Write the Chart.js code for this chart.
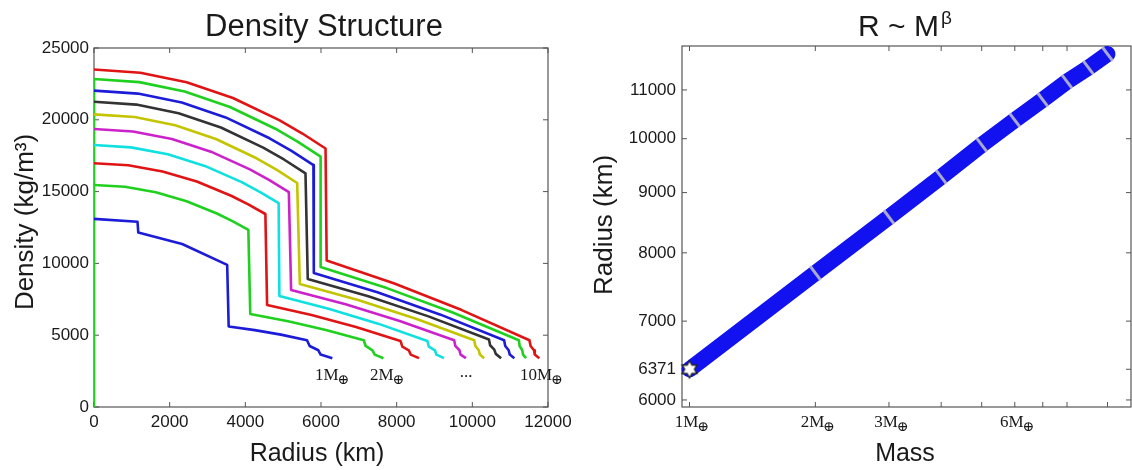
<!DOCTYPE html>
<html>
<head>
<meta charset="utf-8">
<script src="https://cdn.jsdelivr.net/npm/chart.js@4.4.1/dist/chart.umd.min.js"></script>
<style>
  html, body { margin: 0; padding: 0; background: #ffffff; }
  #wrap { position: relative; width: 1132px; height: 470px; overflow: hidden; }
  canvas { position: absolute; top: 0; }
  #cL { left: 0; }
  #cR { left: 580px; }
</style>
</head>
<body>
<div id="wrap">
  <canvas id="cL" width="580" height="470"></canvas>
  <canvas id="cR" width="552" height="470"></canvas>
</div>
<script>
// ---------------- Left panel: density profiles (radius km, density kg/m^3) ----------------
const planetLabels = ['1M⊕', '2M⊕', '3M⊕', '4M⊕', '5M⊕', '6M⊕', '7M⊕', '8M⊕', '9M⊕', '10M⊕'];

const radius01 = [0, 1150, 1170, 2330, 3520, 3560, 4250, 4940, 5630, 5700, 5930, 5990, 6300];
const density01 = [13100, 12900, 12150, 11350, 9900, 5600, 5355, 5040, 4650, 4250, 3950, 3650, 3400];

const radius02 = [0, 816, 1632, 2448, 3264, 3672, 4080, 4130, 5130, 6130, 7130, 7180, 7360, 7420, 7650];
const density02 = [15460, 15335, 14960, 14330, 13460, 12925, 12330, 6480, 5975, 5365, 4650, 4250, 3950, 3650, 3400];

const radius03 = [0, 906, 1812, 2718, 3624, 4077, 4530, 4575, 5750, 6925, 8100, 8150, 8320, 8370, 8590];
const density03 = [16970, 16830, 16405, 15700, 14710, 14110, 13440, 7100, 6410, 5575, 4600, 4200, 3950, 3650, 3400];

const radius04 = [0, 976, 1952, 2928, 3904, 4392, 4880, 4900, 6200, 7510, 8810, 8850, 9010, 9050, 9250];
const density04 = [18245, 18080, 17600, 16790, 15660, 14970, 14200, 7730, 6845, 5805, 4600, 4200, 3950, 3650, 3400];

const radius05 = [0, 1030, 2060, 3090, 4120, 4635, 5150, 5210, 6650, 8080, 9520, 9550, 9660, 9690, 9830];
const density05 = [19360, 19185, 18660, 17780, 16550, 15800, 14970, 8150, 7160, 5995, 4650, 4250, 3950, 3650, 3400];

const radius06 = [0, 1074, 2148, 3222, 4296, 4833, 5370, 5440, 6980, 8510, 10050, 10080, 10170, 10200, 10310];
const density06 = [20380, 20190, 19615, 18660, 17320, 16510, 15600, 8560, 7450, 6150, 4650, 4250, 3950, 3650, 3400];

const radius07 = [0, 1118, 2236, 3354, 4472, 5031, 5590, 5650, 7250, 8840, 10440, 10470, 10580, 10620, 10760];
const density07 = [21260, 21060, 20460, 19465, 18065, 17220, 16270, 8910, 7710, 6310, 4700, 4300, 4000, 3700, 3400];

const radius08 = [0, 1160, 2320, 3480, 4640, 5220, 5800, 5810, 7490, 9160, 10840, 10870, 10960, 10990, 11110];
const density08 = [22030, 21825, 21200, 20165, 18715, 17835, 16850, 9330, 7990, 6430, 4650, 4250, 3950, 3650, 3400];

const radius09 = [0, 0, 1198, 2396, 3594, 4792, 5391, 5990, 5990, 7740, 9480, 11230, 11250, 11320, 11340, 11420];
const density09 = [0, 22840, 22625, 21975, 20890, 19380, 18460, 17430, 9750, 8280, 6580, 4650, 4250, 3950, 3650, 3400];

const radius10 = [0, 1224, 2448, 3672, 4896, 5508, 6120, 6150, 7940, 9720, 11510, 11540, 11630, 11650, 11770];
const density10 = [23500, 23280, 22620, 21520, 19980, 19045, 18000, 10200, 8600, 6750, 4650, 4250, 3950, 3650, 3400];

const radiusTicksL = [0, 2000, 4000, 6000, 8000, 10000, 12000];
const densityTicksL = [0, 5000, 10000, 15000, 20000, 25000];

// ---------------- Right panel: mass-radius relation ----------------
const massValues = [1, 2, 3, 4, 5, 6, 7, 8, 9, 10];
const radiusValues = [6371, 7690, 8580, 9280, 9880, 10370, 10790, 11180, 11490, 11800];
const earthMass = [1];
const earthRadius = [6371];
const massTickValues = [1, 2, 3, 4, 5, 6, 7, 8, 10];
const massTickLabels = ['1M', '2M', '3M', '', '', '6M', '', '', ''];
const radiusTicksR = [6000, 6371, 7000, 8000, 9000, 10000, 11000];

// ---------------- styling ----------------
const curveColors = ['#1c1cd8', '#1fd01f', '#e01414', '#10e0e0', '#cc22cc', '#c4c400',
                     '#333333', '#1c1cd8', '#1fd01f', '#e01414'];
const SANS = '"Liberation Sans", Arial, Helvetica, sans-serif';
const SERIF = '"Liberation Serif", "Times New Roman", "DejaVu Serif", serif';
const TXT = '#1a1a1a';

Chart.defaults.font.family = SANS;
Chart.defaults.color = TXT;

// frame + inward ticks
const frameTicks = {
  id: 'frameTicks',
  beforeDatasetsDraw(chart, args, opts) {
    const { ctx, chartArea: a, scales } = chart;
    ctx.save();
    ctx.strokeStyle = '#555555';
    ctx.lineWidth = 1.2;
    ctx.strokeRect(a.left, a.top, a.right - a.left, a.bottom - a.top);
    const L = 5;
    ctx.lineWidth = 1;
    ctx.beginPath();
    opts.xTicks.forEach(v => {
      const x = scales.x.getPixelForValue(v);
      ctx.moveTo(x, a.bottom); ctx.lineTo(x, a.bottom - L);
      ctx.moveTo(x, a.top); ctx.lineTo(x, a.top + L);
    });
    opts.yTicks.forEach(v => {
      const y = scales.y.getPixelForValue(v);
      ctx.moveTo(a.left, y); ctx.lineTo(a.left + L, y);
      ctx.moveTo(a.right, y); ctx.lineTo(a.right - L, y);
    });
    ctx.stroke();
    ctx.restore();
  }
};

function drawMassText(ctx, main, x, baseline, align, size) {
  ctx.font = size + 'px ' + SERIF;
  const w1 = ctx.measureText(main).width;
  ctx.font = Math.round(size * 0.8) + 'px ' + SERIF;
  const w2 = ctx.measureText('⊕').width;
  let left = x;
  if (align === 'center') left = x - (w1 + w2) / 2;
  ctx.textAlign = 'left';
  ctx.textBaseline = 'alphabetic';
  ctx.font = size + 'px ' + SERIF;
  ctx.fillText(main, left, baseline);
  ctx.font = Math.round(size * 0.8) + 'px ' + SERIF;
  ctx.fillText('⊕', left + w1 - 1, baseline + 4);
}

const textPlugin = {
  id: 'textPlugin',
  afterDraw(chart, args, opts) {
    const { ctx, chartArea: a, scales } = chart;
    ctx.save();
    ctx.fillStyle = TXT;
    if (opts.titleSup) {
      ctx.font = '30px ' + SANS;
      const w1 = ctx.measureText(opts.title).width;
      ctx.font = '19px ' + SANS;
      const w2 = ctx.measureText(opts.titleSup).width;
      const left = opts.titleX - (w1 + w2 + 2) / 2;
      ctx.textAlign = 'left'; ctx.textBaseline = 'alphabetic';
      ctx.font = '30px ' + SANS;
      ctx.fillText(opts.title, left, 36);
      ctx.font = '19px ' + SANS;
      ctx.fillText(opts.titleSup, left + w1 + 2, 24);
    } else {
      ctx.font = '31px ' + SANS;
      ctx.textAlign = 'center'; ctx.textBaseline = 'alphabetic';
      ctx.fillText(opts.title, opts.titleX, 36);
    }
    ctx.font = '25px ' + SANS;
    ctx.textAlign = 'center'; ctx.textBaseline = 'alphabetic';
    ctx.fillText(opts.xTitle, opts.xTitleX, 461);
    ctx.save();
    ctx.translate(opts.yTitleX, opts.yTitleY);
    ctx.rotate(-Math.PI / 2);
    ctx.font = '26px ' + SANS;
    ctx.textAlign = 'center'; ctx.textBaseline = 'middle';
    ctx.fillText(opts.yTitle, 0, 0);
    ctx.restore();
    (opts.notes || []).forEach(n => {
      const x = scales.x.getPixelForValue(n.x);
      const y = scales.y.getPixelForValue(n.y);
      if (n.plain) {
        ctx.font = '17px ' + SERIF;
        ctx.textAlign = 'center'; ctx.textBaseline = 'alphabetic';
        ctx.fillText(n.text, x, y);
      } else {
        drawMassText(ctx, n.text, x, y, 'left', 17);
      }
    });
    if (opts.massLabels) {
      opts.massLabels.values.forEach((v, i) => {
        const t = opts.massLabels.labels[i];
        if (!t) return;
        const x = scales.x.getPixelForValue(v) + 3;
        drawMassText(ctx, t, x, a.bottom + 20, 'center', 17);
      });
    }
    ctx.restore();
  }
};

// ---------------- left chart ----------------
const radiusSets = [radius01, radius02, radius03, radius04, radius05, radius06, radius07, radius08, radius09, radius10];
const densitySets = [density01, density02, density03, density04, density05, density06, density07, density08, density09, density10];

new Chart(document.getElementById('cL'), {
  type: 'scatter',
  data: {
    datasets: radiusSets.map((rs, i) => ({
      label: planetLabels[i],
      data: rs.map((r, j) => ({ x: r, y: densitySets[i][j] })),
      showLine: true,
      borderColor: curveColors[i],
      backgroundColor: curveColors[i],
      borderWidth: 2.6,
      borderJoinStyle: 'round',
      pointRadius: 0,
      tension: 0,
      fill: false
    }))
  },
  options: {
    responsive: false,
    animation: false,
    events: [],
    layout: { autoPadding: false, padding: { left: 0, top: 48, right: 32, bottom: 0 } },
    plugins: {
      legend: { display: false },
      tooltip: { enabled: false },
      frameTicks: { xTicks: radiusTicksL, yTicks: densityTicksL },
      textPlugin: {
        title: 'Density Structure', titleX: 324,
        xTitle: 'Radius (km)', xTitleX: 317,
        yTitle: 'Density (kg/m³)', yTitleX: 26, yTitleY: 222,
        notes: [
          { text: '1M', x: 5842, y: 1880 },
          { text: '2M', x: 7296, y: 1880 },
          { text: '...', x: 9833, y: 2100, plain: true },
          { text: '10M', x: 11261, y: 1880 }
        ]
      }
    },
    scales: {
      x: {
        type: 'linear', min: 0, max: 12000,
        afterFit: s => { s.height = 63; },
        afterBuildTicks: s => { s.ticks = radiusTicksL.map(v => ({ value: v })); },
        grid: { display: false, drawTicks: false },
        border: { display: false },
        ticks: { padding: 5, font: { size: 17 }, color: TXT, maxRotation: 0, autoSkip: false,
                 callback: v => String(v) }
      },
      y: {
        type: 'linear', min: 0, max: 25000,
        afterFit: s => { s.width = 94; },
        afterBuildTicks: s => { s.ticks = densityTicksL.map(v => ({ value: v })); },
        grid: { display: false, drawTicks: false },
        border: { display: false },
        ticks: { padding: 5, font: { size: 17 }, color: TXT, autoSkip: false,
                 callback: v => String(v) }
      }
    }
  },
  plugins: [frameTicks, textPlugin]
});

// ---------------- right chart ----------------
const hexStar = (() => {
  const c = document.createElement('canvas');
  c.width = 22; c.height = 22;
  const g = c.getContext('2d');
  const cx = 11, cy = 11, R = 8.5, r = R / Math.sqrt(3);
  g.beginPath();
  for (let k = 0; k < 6; k++) {
    const ao = (-90 + 60 * k) * Math.PI / 180;
    const ai = (-60 + 60 * k) * Math.PI / 180;
    const px = cx + R * Math.cos(ao), py = cy + R * Math.sin(ao);
    if (k === 0) g.moveTo(px, py); else g.lineTo(px, py);
    g.lineTo(cx + r * Math.cos(ai), cy + r * Math.sin(ai));
  }
  g.closePath();
  g.fillStyle = '#ffffff';
  g.fill();
  g.strokeStyle = '#222222';
  g.lineWidth = 1.4;
  g.stroke();
  return c;
})();

new Chart(document.getElementById('cR'), {
  type: 'scatter',
  data: {
    datasets: [
      {
        label: 'Earth',
        data: earthMass.map((m, i) => ({ x: m, y: earthRadius[i] })),
        pointStyle: hexStar,
        pointRadius: 10,
        showLine: false,
        order: 0,
        clip: false
      },
      {
        label: 'marks',
        data: massValues.slice(1).map((m, i) => ({ x: m, y: radiusValues[i + 1] })),
        pointStyle: 'line',
        pointRadius: 8.5,
        pointRotation: 53,
        pointBorderWidth: 3,
        pointBorderColor: 'rgba(185,185,205,0.9)',
        showLine: false,
        order: 1
      },
      {
        label: 'R ~ M^beta',
        data: massValues.map((m, i) => ({ x: m, y: radiusValues[i] })),
        showLine: true,
        borderColor: '#1212f0',
        borderWidth: 16,
        borderCapStyle: 'round',
        pointRadius: 0,
        tension: 0,
        order: 2,
        clip: false
      }
    ]
  },
  options: {
    responsive: false,
    animation: false,
    events: [],
    layout: { autoPadding: false, padding: { left: 0, top: 46, right: 1, bottom: 0 } },
    plugins: {
      legend: { display: false },
      tooltip: { enabled: false },
      frameTicks: { xTicks: massTickValues, yTicks: radiusTicksR },
      textPlugin: {
        title: 'R ~ M', titleSup: 'β', titleX: 325,
        xTitle: 'Mass', xTitleX: 325,
        yTitle: 'Radius (km)', yTitleX: 25, yTitleY: 225,
        massLabels: { values: massTickValues, labels: massTickLabels }
      }
    },
    scales: {
      x: {
        type: 'logarithmic', min: 0.9595, max: 11.38,
        afterFit: s => { s.height = 63; },
        grid: { display: false, drawTicks: false },
        border: { display: false },
        ticks: { display: false }
      },
      y: {
        type: 'logarithmic', min: 5918, max: 11987,
        afterFit: s => { s.width = 102; },
        afterBuildTicks: s => { s.ticks = radiusTicksR.map(v => ({ value: v })); },
        grid: { display: false, drawTicks: false },
        border: { display: false },
        ticks: { padding: 6, font: { size: 17 }, color: TXT, autoSkip: false,
                 callback: v => String(v) }
      }
    }
  },
  plugins: [frameTicks, textPlugin]
});
</script>
</body>
</html>
